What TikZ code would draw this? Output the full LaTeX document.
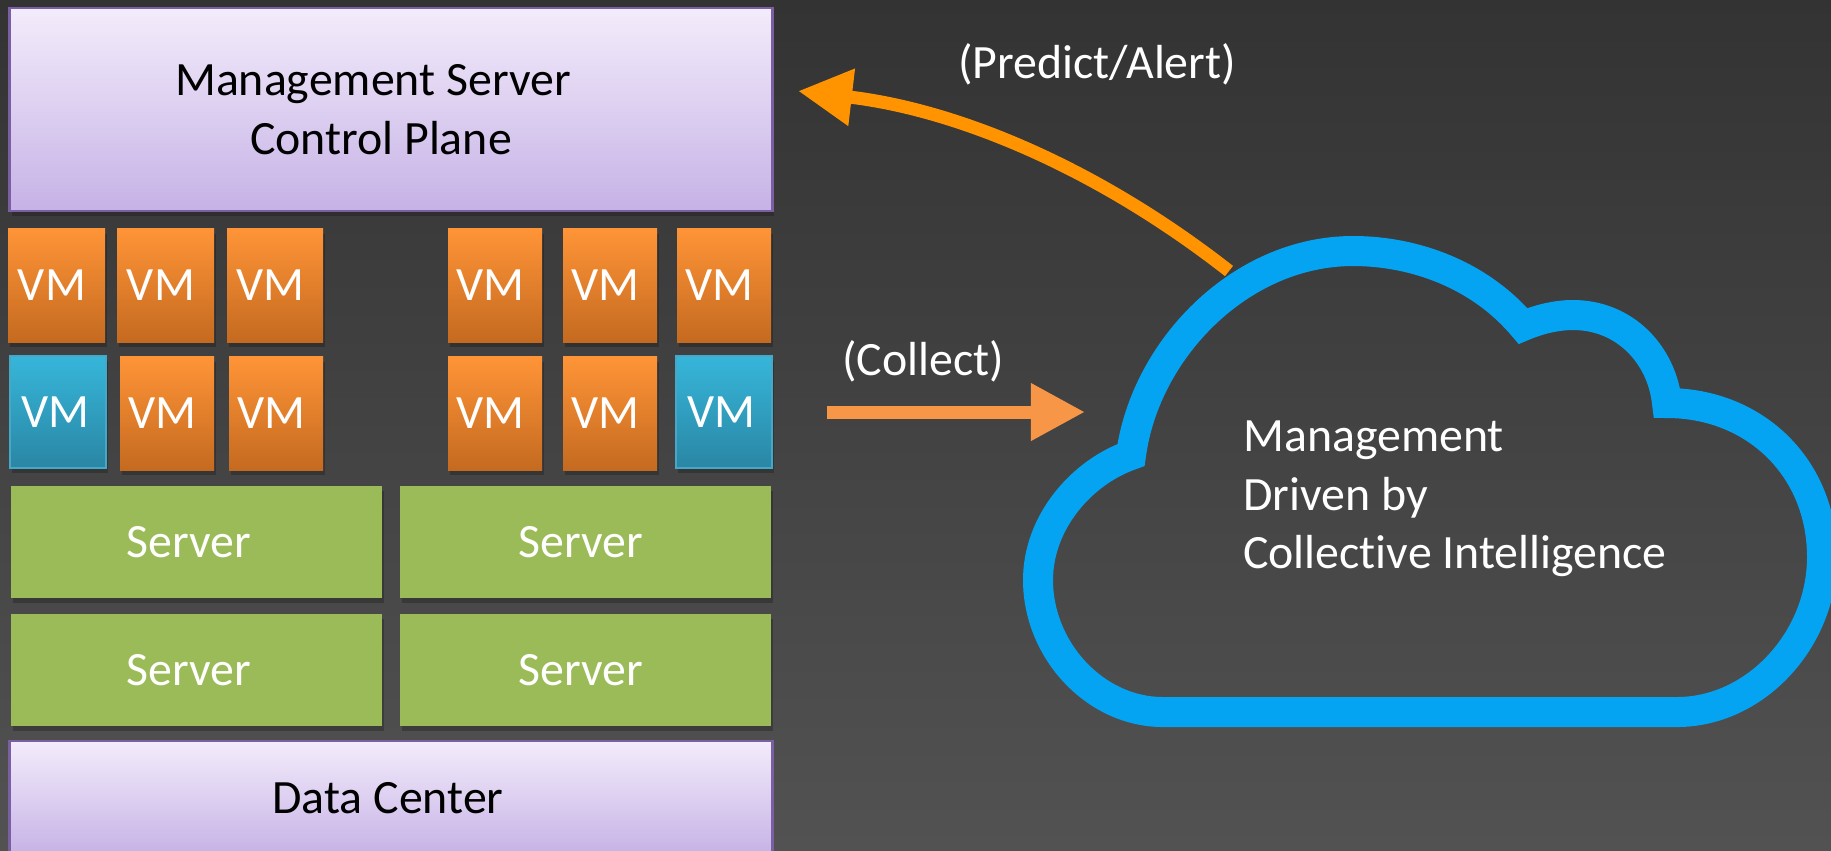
\documentclass[tikz,border=0pt]{standalone}
\usepackage{xcolor}
\usepackage{fontspec}
\setmainfont{Carlito}[Ligatures=CommonOff]
\usetikzlibrary{arrows.meta,shadows}

\definecolor{bgtop}{HTML}{333333}
\definecolor{bgbot}{HTML}{525252}
\definecolor{planetop}{HTML}{F3ECFB}
\definecolor{planebot}{HTML}{C6B2E6}
\definecolor{planeedge}{HTML}{7B5FA3}
\definecolor{vmtop}{HTML}{FF9437}
\definecolor{vmbot}{HTML}{C46A20}
\definecolor{bluetop}{HTML}{36B6DA}
\definecolor{bluebot}{HTML}{2A86A4}
\definecolor{blueedge}{HTML}{46A8C8}
\definecolor{srvgreen}{HTML}{9BBB59}
\definecolor{cloudblue}{HTML}{05A4F2}
\definecolor{alertorange}{HTML}{FF9400}
\definecolor{collectorange}{HTML}{F79646}

\tikzset{
  softshadow/.style={drop shadow={shadow xshift=.5pt,shadow yshift=-1.5pt,opacity=.22,fill=black}},
  planebox/.style={rectangle,draw=planeedge,line width=.8pt,top color=planetop,bottom color=planebot,
    softshadow,text=black,inner sep=0pt,outer sep=0pt},
  vmbox/.style={rectangle,top color=vmtop,bottom color=vmbot,softshadow,text=white,
    minimum height=1.13cm,inner sep=0pt,outer sep=0pt},
  vmblue/.style={vmbox,draw=blueedge,line width=.7pt,top color=bluetop,bottom color=bluebot,minimum height=1.12cm},
  srvbox/.style={rectangle,fill=srvgreen,softshadow,text=white,minimum width=3.71cm,minimum height=1.12cm,
    inner sep=0pt,outer sep=0pt},
  txt/.style={text=white,inner sep=0pt},
  cloudline/.style={draw=cloudblue,line width=.30cm,line join=miter,miter limit=20},
  alertarrow/.style={draw=alertorange,line width=.13cm,-{Triangle[length=.54cm,width=.54cm]}},
  collectarrow/.style={draw=collectorange,line width=.13cm,-{Triangle[length=.54cm,width=.54cm]}}
}

\begin{document}
\begin{tikzpicture}
  [x=.01cm,y=-.01cm,every node/.style={font=\fontsize{13.6}{16.6}\selectfont}]
  \useasboundingbox (0,0) rectangle (1831,850);
  \clip (0,0) rectangle (1831,850);
  \shade[top color=bgtop,bottom color=bgbot] (0,0) rectangle (1831,850);

  % control plane and data center
  \node[planebox,minimum width=7.62cm,minimum height=2.03cm,align=center] (ctrl) at (391,109.5)
    {Management Server\kern.36cm\\Control Plane\kern.2cm};
  \node[planebox,minimum width=7.62cm,minimum height=1.14cm] (dc) at (391,798) {Data Center\kern.06cm};

  % vms
  \foreach \nm/\cx/\cy/\bw in {vma/56.5/285.5/97,vmb/165.5/285.5/97,vmc/275/285.5/96,
      vmd/495/285.5/94,vme/610/285.5/94,vmf/724/285.5/94,
      vmg/167/413.5/94,vmh/276/413.5/94,vmi/495/413.5/94,vmj/610/413.5/94}
    \node[vmbox,minimum width=\bw*.01cm] (\nm) at (\cx,\cy) {VM\kern.09cm};
  \node[vmblue,minimum width=.96cm] (vmk) at (58,412) {VM\kern.05cm};
  \node[vmblue,minimum width=.96cm] (vml) at (724,412) {VM\kern.05cm};

  % servers
  \node[srvbox] (srva) at (196.5,542) {Server\kern.15cm};
  \node[srvbox] (srvb) at (585.5,542) {Server\kern.09cm};
  \node[srvbox] (srvc) at (196.5,670) {Server\kern.15cm};
  \node[srvbox] (srvd) at (585.5,670) {Server\kern.09cm};

  % cloud
  \draw[cloudline] (1131,455) .. controls (1145,350) and (1240,251) .. (1353,251)
    .. controls (1415,251) and (1480,275) .. (1523,326)
    .. controls (1537,320) and (1555,315) .. (1573,315)
    .. controls (1625,315) and (1662,355) .. (1667,403)
    .. controls (1755,403) and (1822,468) .. (1822,557)
    .. controls (1822,640) and (1755,712) .. (1677,712)
    -- (1163,712)
    .. controls (1095,712) and (1038,650) .. (1038,580)
    .. controls (1038,522) and (1082,472) .. (1131,455) -- cycle;
  \node[txt,align=left] (cloudtxt) at (1455,499) {Management\\Driven by\\Collective Intelligence};

  % arrows
  \coordinate (alertstart) at (1229,271);
  \coordinate (alertend) at (798,91);
  \coordinate (collectstart) at (827,412);
  \coordinate (collectend) at (1085,412);
  \draw[alertarrow] (alertstart) .. controls (1100,170) and (960,110) .. (alertend);
  \draw[collectarrow] (collectstart) -- (collectend);
  \node[txt] (alertlbl) at (1097,64) {(Predict/Alert)};
  \node[txt] (collectlbl) at (923,361) {(Collect)};
\end{tikzpicture}
\end{document}
